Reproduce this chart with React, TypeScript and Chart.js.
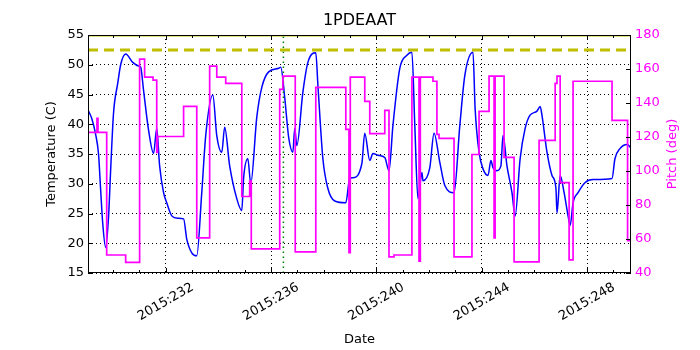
import React, { useEffect, useRef } from "react";
import { Chart, registerables } from "chart.js";

Chart.register(...registerables);

const FONT = '"DejaVu Sans", "Liberation Sans", sans-serif';

const xMin = 229.05;
const xMax = 249.67;
const xMajorTicks = [232, 236, 240, 244, 248];
const xTickLabels = ["2015:232", "2015:236", "2015:240", "2015:244", "2015:248"];

const tempDays = [
  229.05, 229.19, 229.34, 229.45, 229.53, 229.61, 229.72, 229.83, 229.91, 230.02,
  230.18, 230.29, 230.48, 230.75, 230.97, 231.05, 231.16, 231.35, 231.54, 231.66,
  231.77, 231.92, 232.04, 232.23, 232.46, 232.68, 232.80, 232.99, 233.18, 233.37,
  233.52, 233.79, 233.94, 234.13, 234.24, 234.43, 234.70, 234.89, 234.96, 235.12,
  235.23, 235.46, 235.65, 235.91, 236.29, 236.37, 236.52, 236.67, 236.83, 236.90,
  236.98, 237.21, 237.40, 237.70, 237.78, 237.97, 238.16, 238.42, 238.84, 238.99,
  239.11, 239.45, 239.56, 239.75, 239.87, 240.06, 240.32, 240.48, 240.63, 240.89,
  241.16, 241.35, 241.46, 241.58, 241.73, 241.77, 242.03, 242.19, 242.41, 242.60,
  242.95, 243.17, 243.36, 243.67, 243.75, 243.90, 244.05, 244.24, 244.35, 244.43,
  244.58, 244.73, 244.81, 244.96, 245.15, 245.27, 245.46, 245.65, 245.83, 246.10,
  246.22, 246.29, 246.48, 246.67, 246.82, 246.86, 246.98, 247.13, 247.28, 247.36,
  247.47, 247.66, 247.93, 248.23, 248.95, 249.06, 249.25, 249.52, 249.67,
];
const tempValues = [
  42.4, 41.0, 38.3, 35.0, 29.0, 23.3, 19.3, 24.4, 32.3, 41.9,
  46.9, 50.0, 51.8, 50.4, 49.8, 49.6, 45.7, 39.0, 35.1, 39.3,
  33.0, 28.5, 26.8, 24.6, 24.2, 24.1, 20.7, 18.4, 17.9, 28.5,
  38.1, 44.9, 38.1, 35.3, 39.5, 33.0, 27.5, 25.5, 31.0, 34.2,
  30.0, 41.2, 46.2, 48.8, 49.4, 49.6, 44.5, 37.8, 35.3, 39.3,
  36.4, 45.4, 50.4, 52.0, 46.6, 34.2, 29.2, 27.1, 26.8, 30.9,
  31.0, 33.4, 38.5, 33.9, 35.1, 34.8, 34.4, 32.2, 39.8, 49.4,
  51.6, 52.1, 39.8, 27.5, 31.9, 30.5, 32.7, 38.5, 33.6, 29.7,
  28.5, 39.8, 48.2, 52.1, 42.7, 35.3, 32.5, 31.4, 33.9, 32.7,
  32.2, 33.0, 38.1, 33.0, 28.5, 24.6, 34.2, 39.3, 41.5, 42.2,
  43.0, 41.5, 35.3, 31.4, 29.2, 25.1, 31.4, 28.5, 24.6, 23.0,
  26.8, 28.5, 30.2, 30.7, 30.9, 34.2, 35.9, 36.6, 36.0,
];

const pitchDays = [
  229.05, 229.39, 229.43, 229.76, 230.48, 231.01, 231.20, 231.52, 231.66, 231.69,
  232.68, 233.18, 233.67, 233.94, 234.28, 234.89, 235.19, 235.25, 236.33, 236.45,
  236.92, 237.70, 238.84, 238.96, 239.01, 239.56, 239.75, 240.32, 240.48, 240.67,
  241.35, 241.62, 241.67, 242.15, 242.30, 242.38, 242.95, 243.63, 243.90, 244.28,
  244.47, 244.51, 244.85, 245.23, 246.18, 246.79, 246.86, 246.98, 247.32, 247.47,
  248.95, 249.54, 249.67,
];
const pitchValues = [
  122.7, 131, 122.7, 50.6, 46.3, 165.8, 155.2, 153.4, 111, 120.3,
  138, 60.7, 161.7, 155.2, 151.6, 85, 94, 54.2, 148, 155.8,
  52.4, 149.2, 124.5, 52, 155.2, 141, 122, 135.7, 49.5, 50.6,
  155.2, 47, 155.2, 152.8, 121.5, 119.2, 49.5, 109.7, 135.1, 155.8,
  60.7, 155.8, 108, 46.5, 118, 151.6, 155.8, 93.2, 47.7, 152.8,
  129.8, 59, 59,
];

const tempLimit = 52.5;
const tempTop = 55;
const markerDay = 236.47;

const decorPlugin = {
  id: "decor",
  afterDraw(chart: any) {
    const { ctx, chartArea: a, scales } = chart;
    const x = scales.x;
    const y = scales.y;
    const y2 = scales.y2;
    ctx.save();
    ctx.strokeStyle = "#000";
    ctx.lineWidth = 1;
    ctx.beginPath();
    for (let d = Math.ceil(xMin); d <= xMax; d++) {
      const px = Math.round(x.getPixelForValue(d)) + 0.5;
      const len = xMajorTicks.includes(d) ? 5 : 3;
      ctx.moveTo(px, a.bottom);
      ctx.lineTo(px, a.bottom - len);
      ctx.moveTo(px, a.top);
      ctx.lineTo(px, a.top + len);
    }
    y.ticks.forEach((t: any) => {
      const py = Math.round(y.getPixelForValue(t.value)) + 0.5;
      ctx.moveTo(a.left, py);
      ctx.lineTo(a.left + 5, py);
    });
    y2.ticks.forEach((t: any) => {
      const py = Math.round(y2.getPixelForValue(t.value)) + 0.5;
      ctx.moveTo(a.right, py);
      ctx.lineTo(a.right - 5, py);
    });
    ctx.stroke();
    ctx.strokeRect(a.left + 0.5, a.top + 0.5, a.right - a.left - 1, a.bottom - a.top - 1);

    ctx.fillStyle = "#000";
    ctx.font = `13px ${FONT}`;
    ctx.textAlign = "center";
    ctx.textBaseline = "middle";
    xMajorTicks.forEach((d, i) => {
      const px = x.getPixelForValue(d);
      ctx.save();
      ctx.translate(px, a.bottom + 29);
      ctx.rotate(-Math.PI / 6);
      ctx.fillText(xTickLabels[i], 0, 0);
      ctx.restore();
    });
    const mid = (a.left + a.right) / 2;
    ctx.fillText("Date", mid, 340);
    ctx.save();
    ctx.translate(52, (a.top + a.bottom) / 2);
    ctx.rotate(-Math.PI / 2);
    ctx.fillText("Temperature (C)", 0, 0);
    ctx.restore();
    ctx.save();
    ctx.fillStyle = "#ff00ff";
    ctx.translate(673, (a.top + a.bottom) / 2);
    ctx.rotate(-Math.PI / 2);
    ctx.fillText("Pitch (deg)", 0, 0);
    ctx.restore();
    ctx.font = `16px ${FONT}`;
    ctx.fillText("1PDEAAT", mid, 21);
    ctx.restore();
  },
};

export default function App() {
  const ref = useRef<HTMLCanvasElement | null>(null);
  useEffect(() => {
    if (!ref.current) return;
    const chart = new Chart(ref.current, {
      type: "line",
      data: {
        datasets: [
          {
            label: "Pitch",
            data: pitchDays.map((d, i) => ({ x: d, y: pitchValues[i] })),
            yAxisID: "y2",
            borderColor: "#ff00ff",
            borderWidth: 1.7,
            pointRadius: 0,
            stepped: true,
            fill: false,
            order: 0,
          },
          {
            label: "Limit",
            data: [
              { x: xMin, y: tempLimit },
              { x: xMax, y: tempLimit },
            ],
            yAxisID: "y",
            borderColor: "#bfbf00",
            borderWidth: 3,
            borderDash: [10, 6],
            pointRadius: 0,
            fill: false,
            order: 1,
          },
          {
            label: "Top",
            data: [
              { x: xMin, y: tempTop },
              { x: xMax, y: tempTop },
            ],
            yAxisID: "y",
            borderColor: "#bfbf00",
            borderWidth: 3,
            pointRadius: 0,
            fill: false,
            order: 1,
          },
          {
            label: "Marker",
            data: [
              { x: markerDay, y: 15 },
              { x: markerDay, y: 55 },
            ],
            yAxisID: "y",
            borderColor: "#008000",
            borderWidth: 1.5,
            borderDash: [1.5, 3.5],
            pointRadius: 0,
            fill: false,
            order: 2,
          },
          {
            label: "Temperature",
            data: tempDays.map((d, i) => ({ x: d, y: tempValues[i] })),
            yAxisID: "y",
            borderColor: "#0000ff",
            borderWidth: 1.5,
            pointRadius: 0,
            cubicInterpolationMode: "monotone",
            fill: false,
            order: 3,
          },
        ],
      },
      options: {
        animation: false,
        responsive: false,
        maintainAspectRatio: false,
        layout: { padding: { top: 35, left: 0, right: 0, bottom: 0 } },
        plugins: {
          legend: { display: false },
          title: { display: false },
          tooltip: { enabled: false },
        },
        scales: {
          x: {
            type: "linear",
            min: xMin,
            max: xMax,
            afterBuildTicks: (s: any) => {
              s.ticks = xMajorTicks.map((v) => ({ value: v }));
            },
            afterFit: (s: any) => {
              s.height = 77;
            },
            ticks: { display: false },
            grid: { color: "#000", lineWidth: 1, drawTicks: false },
            border: { display: false, dash: [1, 3] },
          },
          y: {
            position: "left",
            min: 15,
            max: 55,
            afterFit: (s: any) => {
              s.width = 88;
            },
            ticks: { stepSize: 5, color: "#000", font: { family: FONT, size: 13 }, padding: 4 },
            grid: { color: "#000", lineWidth: 1, drawTicks: false },
            border: { display: false, dash: [1, 3] },
          },
          y2: {
            position: "right",
            min: 40,
            max: 180,
            afterFit: (s: any) => {
              s.width = 69;
            },
            ticks: { stepSize: 20, color: "#ff00ff", font: { family: FONT, size: 13 }, padding: 4 },
            grid: { display: false, drawTicks: false },
            border: { display: false },
          },
        },
      },
      plugins: [decorPlugin],
    } as any);
    return () => chart.destroy();
  }, []);
  return (
    <div style={{ position: "absolute", left: 0, top: 0, width: 700, height: 350, background: "#fff" }}>
      <canvas ref={ref} width={700} height={350} style={{ width: 700, height: 350, display: "block" }} />
    </div>
  );
}
